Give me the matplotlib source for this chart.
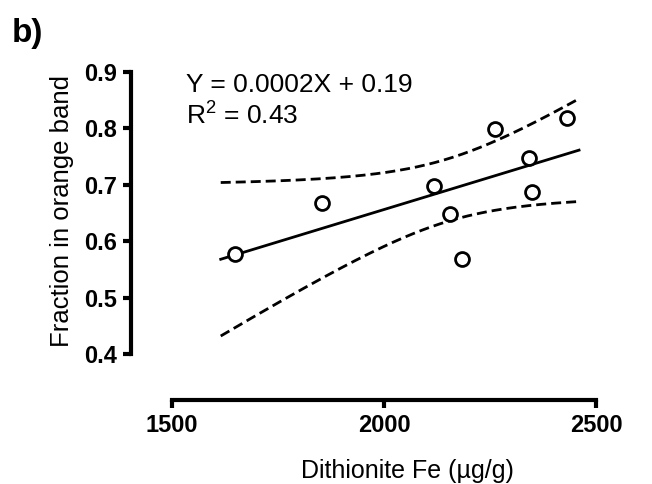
import numpy as np
import matplotlib
matplotlib.use("Agg")
import matplotlib.pyplot as plt

plt.rcParams["font.family"] = ["Liberation Sans", "DejaVu Sans"]
plt.rcParams["mathtext.fontset"] = "custom"
plt.rcParams["mathtext.rm"] = "Liberation Sans"
plt.rcParams["mathtext.default"] = "regular"

# data
dithionite_fe = [1648, 1853, 2117, 2155, 2185, 2261, 2342, 2349, 2432]
orange_fraction = [0.578, 0.668, 0.698, 0.648, 0.568, 0.799, 0.748, 0.688, 0.818]
fit_range = [1615, 2460]
x_ticks = [1500, 2000, 2500]
y_ticks = [0.4, 0.5, 0.6, 0.7, 0.8, 0.9]
equation = "Y = 0.0002X + 0.19"
r2_text = "R$^{2}$ = 0.43"

x = np.array(dithionite_fe, dtype=float)
y = np.array(orange_fraction, dtype=float)

# linear fit + 95% confidence band
n = len(x)
slope, intercept = np.polyfit(x, y, 1)
resid = y - (slope * x + intercept)
s = np.sqrt(np.sum(resid ** 2) / (n - 2))
sxx = np.sum((x - x.mean()) ** 2)
t_crit = 2.3646  # t(0.975, df=7)
xf = np.linspace(fit_range[0], fit_range[1], 200)
yf = slope * xf + intercept
half = t_crit * s * np.sqrt(1.0 / n + (xf - x.mean()) ** 2 / sxx)

W, H = 652, 484
fig = plt.figure(figsize=(W / 100, H / 100), dpi=100)
ax = fig.add_axes([131 / W, (H - 400) / H, (596 - 131) / W, (400 - 72) / H])

ax.plot(xf, yf, color="black", lw=2.0)
ax.plot(xf, yf + half, color="black", lw=2.0, linestyle=(0, (3.6, 1.8)))
ax.plot(xf, yf - half, color="black", lw=2.0, linestyle=(0, (3.6, 1.8)))
ax.plot(x, y, "o", ms=10, mfc="white", mec="black", mew=2.0, clip_on=False, zorder=5)

ax.set_xlim(1403.4, 2500)
ax.set_ylim(0.3186, 0.9)
ax.set_xticks(x_ticks)
ax.set_yticks(y_ticks)
ax.set_xticklabels([str(v) for v in x_ticks], fontsize=17, fontweight="bold")
ax.set_yticklabels([f"{v:.1f}" for v in y_ticks], fontsize=17, fontweight="bold")

for side in ["top", "right"]:
    ax.spines[side].set_visible(False)
for side in ["left", "bottom"]:
    ax.spines[side].set_linewidth(3)
ax.spines["left"].set_bounds(0.4, 0.9)
ax.spines["bottom"].set_bounds(1500, 2500)
ax.tick_params(direction="out", length=6, width=3, pad=4)

fig.text(62 / W, (H - 211) / H, "Fraction in orange band", rotation=90,
         ha="center", va="center", fontsize=18.5)
fig.text(407 / W, (H - 478) / H, "Dithionite Fe (µg/g)", ha="center",
         va="baseline", fontsize=18)
fig.text(186 / W, (H - 92) / H, equation, ha="left", va="baseline", fontsize=19)
fig.text(186 / W, (H - 125) / H, r2_text, ha="left", va="baseline", fontsize=19)
fig.text(12 / W, (H - 42) / H, "b)", ha="left", va="baseline", fontsize=24,
         fontweight="bold")

fig.savefig("out.png", dpi=100)
